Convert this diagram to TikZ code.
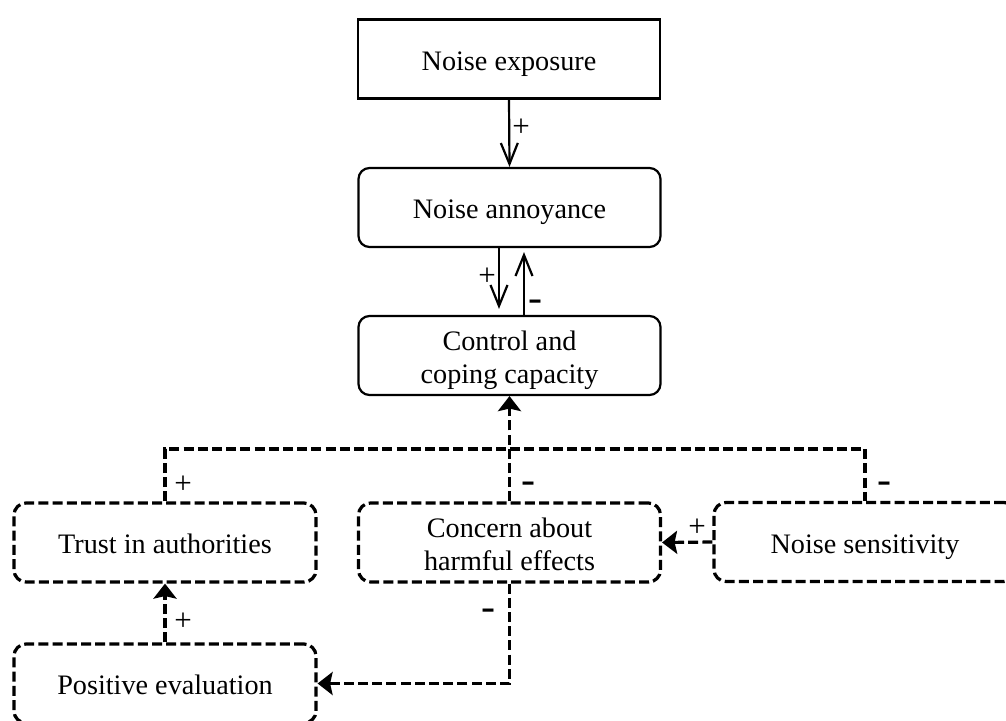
\documentclass[tikz,border=0pt]{standalone}
\usepackage{fontspec}
\setmainfont{Liberation Serif}
\usetikzlibrary{arrows.meta}
\newcommand\bxt[1]{\raisebox{-11pt}[0pt][0pt]{\begin{tabular}{@{}c@{}}#1\end{tabular}}}
\begin{document}
\begin{tikzpicture}[x=1pt,y=-1pt,
 box/.style={draw, line width=2.2pt, minimum width=302pt, minimum height=79pt, inner sep=0pt, font=\fontsize{28.2}{33.5}\selectfont},
 rbox/.style={box, rounded corners=11pt},
 dbox/.style={box, rounded corners=12pt, line width=3.2pt, dash pattern=on 10pt off 4.2pt},
 sarr/.style={line width=2.2pt, -{Straight Barb[length=21pt,width=17pt]}},
 darr/.style={line width=3.2pt, dash pattern=on 10pt off 4.2pt},
 dtip/.style={-{Stealth[length=15pt,width=23pt,inset=2.5pt]}},
 lblp/.style={font=\fontsize{31}{31}\selectfont, inner sep=0pt},
 lblm/.style={font=\fontsize{42}{42}\selectfont, inner sep=0pt}
]
\useasboundingbox (0,0) rectangle (1006,720);

\node[box]  (exp)   at (509,59)      {\bxt{Noise exposure}};
\node[rbox] (ann)   at (509.5,207.5) {\bxt{Noise annoyance}};
\node[rbox] (ctl)   at (509.5,355.5) {\bxt{Control and\\coping capacity}};
\node[dbox] (trust) at (165,542.5)   {\bxt{Trust in authorities}};
\node[dbox] (conc)  at (509.5,542.5) {\bxt{Concern about\\harmful effects}};
\node[dbox] (sens)  at (865,542)     {\bxt{Noise sensitivity}};
\node[dbox] (pos)   at (165,683.5)   {\bxt{Positive evaluation}};

\draw[sarr] (exp.south) -- (ann.north);
\draw[sarr, shorten >=6pt] ([xshift=-10.5pt]ann.south) -- ([xshift=-10.5pt]ctl.north);
\draw[sarr, shorten >=4pt] ([xshift=14.5pt]ctl.north) -- ([xshift=14.5pt]ann.south);

\coordinate (hub) at (509.5,449);
\draw[darr] (trust.north) |- (hub) -| (sens.north);
\draw[darr, dtip] (conc.north) -- (ctl.south);
\draw[darr, dtip] (sens.west) -- (conc.east);
\draw[darr, dtip] (pos.north) -- (trust.south);
\draw[darr, dtip] (conc.south) |- (pos.east);

\node[lblp] (l1) at (521,128) {+};
\node[lblp] (l2) at (487,277) {+};
\node[lblm] (l3) at (535,306) {-};
\node[lblp] (l4) at (183,485) {+};
\node[lblm] (l5) at (528,488) {-};
\node[lblm] (l6) at (884,488) {-};
\node[lblp] (l7) at (697,528) {+};
\node[lblp] (l8) at (183,622) {+};
\node[lblm] (l9) at (488,615) {-};
\end{tikzpicture}
\end{document}
